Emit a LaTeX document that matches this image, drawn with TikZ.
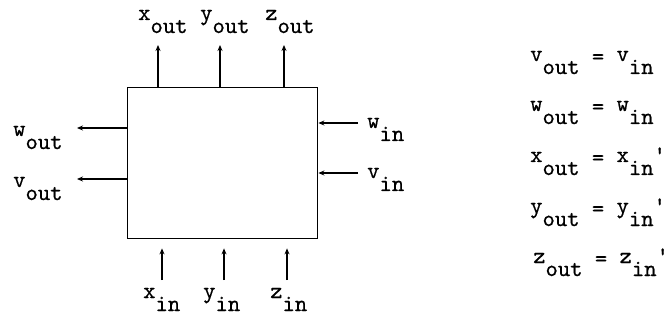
\documentclass[tikz,border=0pt]{standalone}
\usepackage{fontspec}
\newfontfamily\typew[FakeBold=0.6]{lmmono10-regular.otf}
\usetikzlibrary{arrows.meta}
\newcommand\sg[2]{\raisebox{13pt}{#1}#2}
\newcommand\eqs{\raisebox{10pt}{=}}
\newcommand\prm{\raisebox{13pt}{'}}
\begin{document}
\begin{tikzpicture}[x=1pt,y=-1pt,
  lab/.style={inner sep=0pt, anchor=base west, font=\typew\fontsize{23.5}{26}\selectfont},
  arr/.style={line width=1.3pt, -{Stealth[length=6pt,width=5pt]}}]
\useasboundingbox (0,0) rectangle (671,320);
\fill[white] (0,0) rectangle (671,320);
\node[draw, line width=1.4pt, minimum width=190pt, minimum height=151pt, inner sep=0pt, anchor=north west] (box) at (127,87) {};
% top outputs
\coordinate (ta) at (158,45);
\coordinate (tb) at (220,45);
\coordinate (tc) at (284,45);
\draw[arr] (box.north -| ta) -- (ta);
\draw[arr] (box.north -| tb) -- (tb);
\draw[arr] (box.north -| tc) -- (tc);
\node[lab] (xo) at (138,33) {\sg{x}{out}};
\node[lab] (yo) at (200,33) {\sg{y}{out}};
\node[lab] (zo) at (265,33) {\sg{z}{out}};
% left outputs
\coordinate (la) at (77,128);
\coordinate (lb) at (77,179);
\draw[arr] (la -| box.west) -- (la);
\draw[arr] (lb -| box.west) -- (lb);
\node[lab] (wo) at (13,149) {\sg{w}{out}};
\node[lab] (vo) at (13,200) {\sg{v}{out}};
% right inputs
\coordinate (ra) at (358,123);
\coordinate (rb) at (358,173);
\draw[arr] (ra) -- (ra -| box.east);
\draw[arr] (rb) -- (rb -| box.east);
\node[lab] (wi) at (367,141) {\sg{w}{in}};
\node[lab] (vi) at (367,191) {\sg{v}{in}};
% bottom inputs
\coordinate (ba) at (162,280);
\coordinate (bb) at (224,280);
\coordinate (bc) at (287,280);
\draw[arr, shorten >=9pt] (ba) -- (ba |- box.south);
\draw[arr, shorten >=9pt] (bb) -- (bb |- box.south);
\draw[arr, shorten >=9pt] (bc) -- (bc |- box.south);
\node[lab] (xi) at (143,311) {\sg{x}{in}};
\node[lab] (yi) at (203,311) {\sg{y}{in}};
\node[lab] (zi) at (270,311) {\sg{z}{in}};
% equations
\node[lab] (e1) at (530,74) {\sg{v}{out} \eqs{} \sg{v}{in}};
\node[lab] (e2) at (530,124) {\sg{w}{out} \eqs{} \sg{w}{in}};
\node[lab] (e3) at (530,175) {\sg{x}{out} \eqs{} \sg{x}{in}\prm};
\node[lab] (e4) at (530,226) {\sg{y}{out} \eqs{} \sg{y}{in}\prm};
\node[lab] (e5) at (533,276) {\sg{z}{out} \eqs{} \sg{z}{in}\prm};
\end{tikzpicture}
\end{document}
